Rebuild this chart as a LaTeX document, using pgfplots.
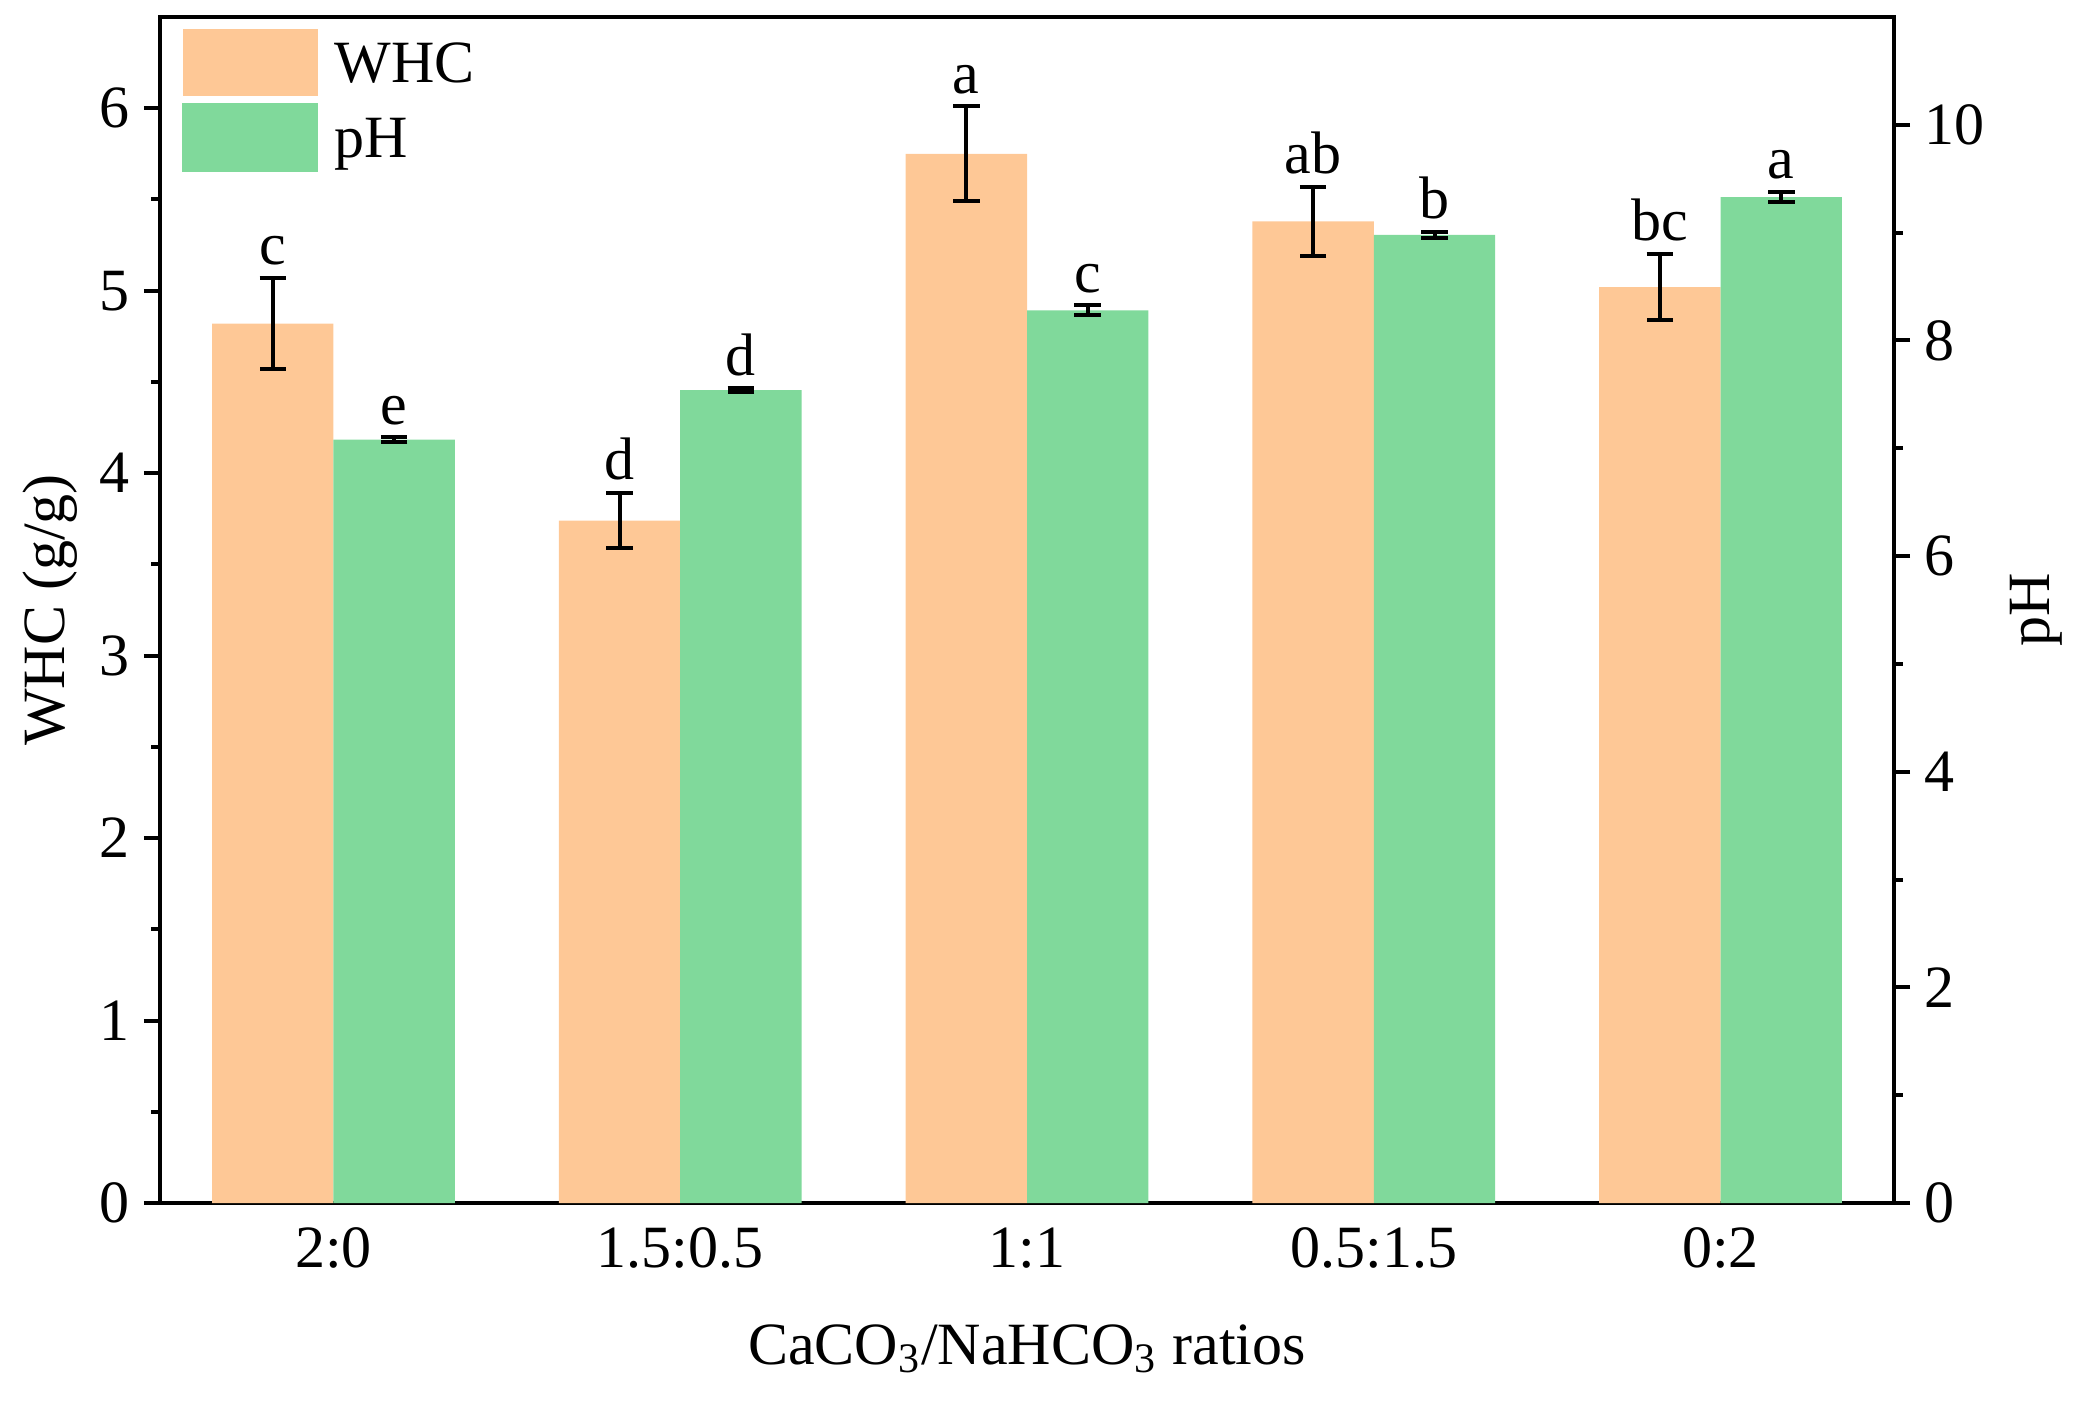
\documentclass[border=0pt]{standalone}
\usepackage{fontspec}
\setmainfont{Liberation Serif}
\usepackage{pgfplots}
\usepackage{pgfplotstable}
\pgfplotsset{compat=1.18}
\definecolor{whcc}{RGB}{254,200,150}
\definecolor{phc}{RGB}{128,217,155}

\pgfplotstableread{
x y err lab
0 4.82 0.25 c
1 3.74 0.15 d
2 5.75 0.26 a
3 5.38 0.19 ab
4 5.02 0.18 bc
}\whc
\pgfplotstableread{
x y err lab
0 7.08 0.02 e
1 7.54 0.015 d
2 8.28 0.045 c
3 8.98 0.03 b
4 9.33 0.05 a
}\ph

\begin{document}
\begin{tikzpicture}[font=\fontsize{15}{18}\selectfont]
\useasboundingbox (-40pt,-50.25pt) rectangle (478.25pt,300.75pt);
\pgfplotsset{
  common/.style={
    width=433.5pt, height=296.5pt, scale only axis,
    xmin=-0.5, xmax=4.5,
    axis line style={line width=1pt},
    tick style={line width=1pt, black},
    major tick length=4pt, minor tick length=2.2pt,
    tick align=outside,
    /pgf/number format/assume math mode=true,
    clip=false,
  },
  errs/.style={error bars/.cd, y dir=both, y explicit,
    error bar style={line width=1pt,black},
    error mark options={rotate=90, mark size=3.3pt, line width=1pt, black}},
  labs/.style={draw=none, mark=none, forget plot, nodes near coords, point meta=explicit symbolic,
    nodes near coords style={anchor=south, inner sep=3pt, black, font=\fontsize{15}{18}\selectfont}},
}
\begin{axis}[common,
  ymin=0, ymax=6.5, ytick={0,...,6}, minor y tick num=1,
  ytick pos=left,
  xtick={0,...,4}, xticklabels={2:0,1.5:0.5,1:1,0.5:1.5,0:2},
  x tick style={draw=none}, xtick pos=bottom,
  x tick label style={yshift=1.3pt},
  xlabel={CaCO\textsubscript{3}/NaHCO\textsubscript{3} ratios},
  xlabel style={at={(axis description cs:0.5,-0.1231)}, anchor=center},
  ylabel={WHC (g/g)},
  ylabel style={at={(axis description cs:-0.0634,0.5)}, anchor=center},
  legend style={at={(axis description cs:0.0121,0.9907)}, anchor=north west,
    draw=none, fill=none, inner sep=0pt, row sep=1.6pt, column sep=4pt,
    nodes={inner sep=0pt, text depth=0pt}, cells={anchor=west}},
  legend cell align=left,
]
\addplot[ybar, bar width=0.35, bar shift=0, fill=whcc, draw=none,
  legend image code/.code={\fill[whcc] (0pt,-8.45pt) rectangle (33.75pt,8.45pt);},
  errs] table[x expr=\thisrow{x}-0.175, y=y, y error=err] {\whc};
\addlegendentry{WHC}
\addlegendimage{legend image code/.code={\fill[phc] (0pt,-8.45pt) rectangle (33.75pt,8.45pt);}}
\addlegendentry{pH}
\addplot[labs] table[x expr=\thisrow{x}-0.175, y expr=\thisrow{y}+\thisrow{err}, meta=lab] {\whc};
\end{axis}
\begin{axis}[common,
  ymin=0, ymax=11, ytick={0,2,...,10}, minor y tick num=1,
  axis y line*=right, axis x line=none,
  ylabel={pH},
  ylabel style={at={(axis description cs:1.0819,0.5)}, anchor=center},
]
\addplot[ybar, bar width=0.35, bar shift=0, fill=phc, draw=none, errs]
  table[x expr=\thisrow{x}+0.175, y=y, y error=err] {\ph};
\addplot[labs] table[x expr=\thisrow{x}+0.175, y expr=\thisrow{y}+\thisrow{err}, meta=lab] {\ph};
\end{axis}
\end{tikzpicture}
\end{document}
